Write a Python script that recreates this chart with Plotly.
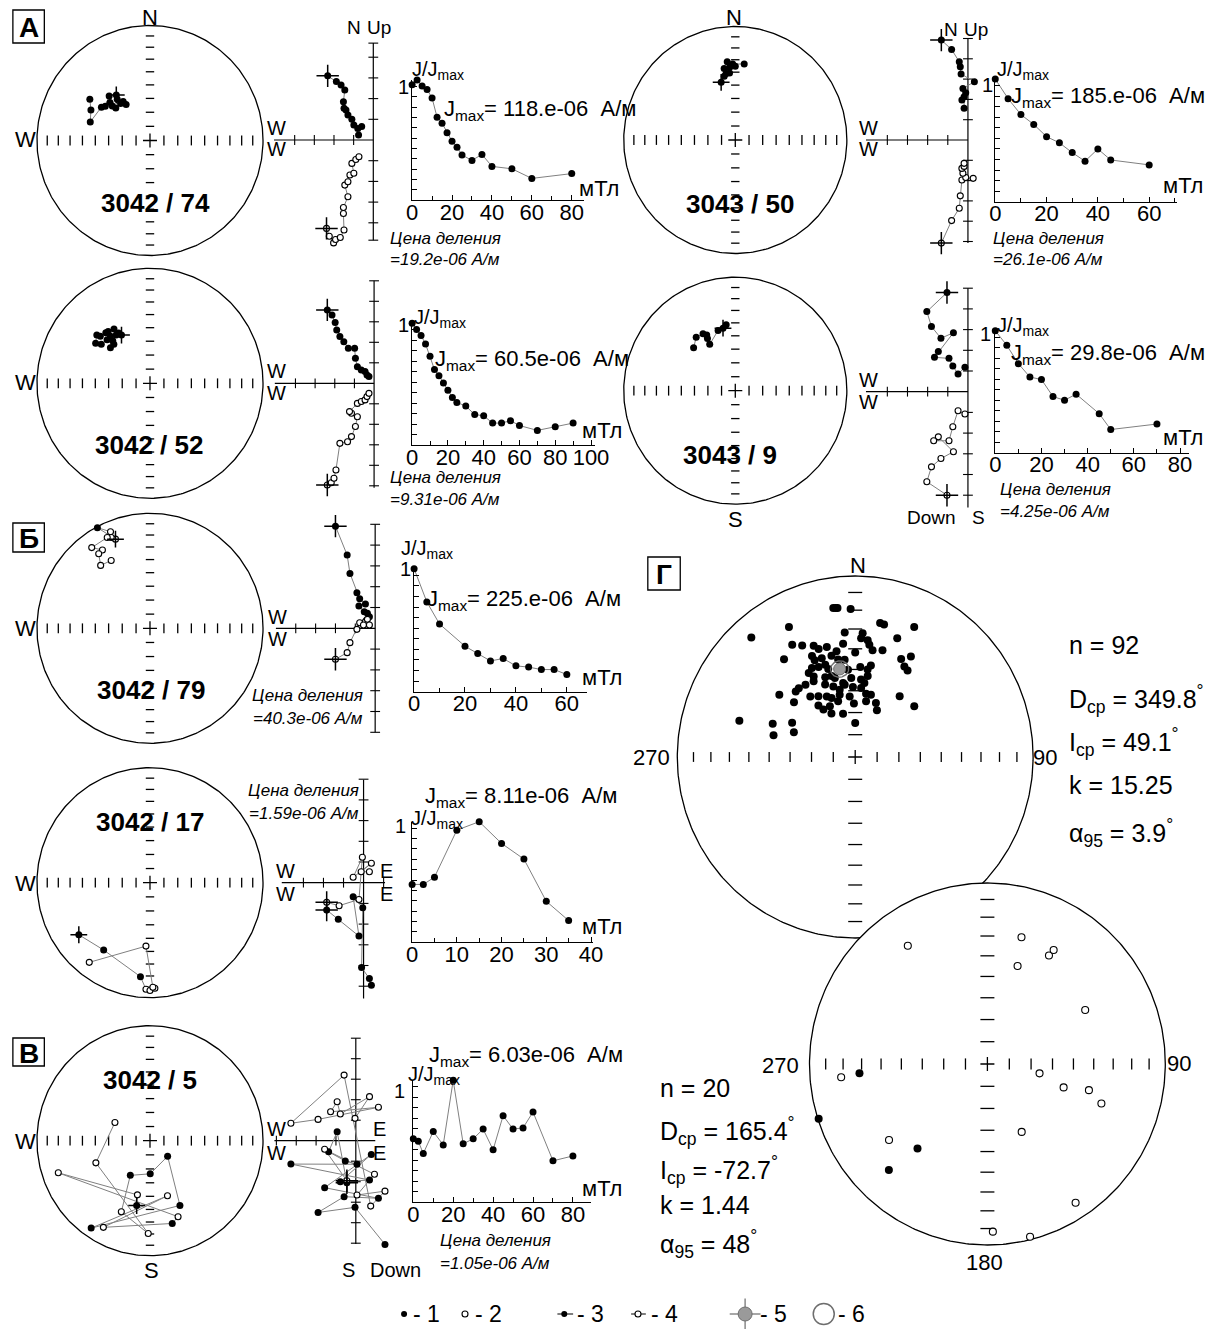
import numpy as np
import plotly.graph_objects as go

W, H = 1226, 1329
FONT = "Liberation Sans, Arial, Helvetica, sans-serif"
LGRAY = "#808080"

# ============================ DATA ============================
# ---- stereonets: declination / inclination (deg), demagnetisation order, first = NRM
st74_dec = [323, 321, 325, 326, 321, 313, 312, 313, 317, 307, 304, 287, 297, 304]
st74_inc = [49, 52, 56, 59, 56, 56, 53, 50, 46, 49, 47, 44, 41, 36]
st52_dec = [329, 327.5, 324.5, 326, 320.6, 319.5, 318.4, 313, 311.8, 306, 308.3, 315, 318.3, 316.7, 311.5]
st52_inc = [49.5, 47, 47.3, 42.5, 41.3, 45.3, 40.8, 39.7, 37, 40.3, 44.3, 45.4, 49, 51.5, 51.4]
st50_dec = [346, 350, 355, 352, 351, 355.5, 0, 354, 358, 6.8]
st50_inc = [46.5, 42.5, 40.5, 40.6, 36.3, 36, 35.3, 31.3, 33.5, 33]
st9_dec = [348.7, 352, 343.8, 330.7, 331.5, 332.4, 330, 323.3, 315.4]
st9_inc = [43.2, 41, 44, 51.3, 46.6, 44, 41.7, 41, 45.8]
st79_dec = [338.5, 332, 337.4, 336.5, 334.4, 323.7, 328.3, 325, 321.4, 329.8]
st79_inc = [-17.8, 1, -10, -15, -13.5, -14, -21, -22, -30.7, -32.3]
st17_dec = [234.3, 215, 185.9, 182.2, 180, 177.3, 178.4, 183.7, 217.8]
st17_inc = [23.5, 29.3, 19, -8, -7, -9, -10, -44, -13.4]
st5_dec = [191.8, 193.3, 251, 159.4, 164.7, 208.7, 162.1, 214.4, 154.8, 131, 179.6, 210, 202.3, 181.1, 248.1, 297]
st5_inc = [41.9, -50, -15.3, -30.1, 26.3, -15.2, -48.3, 8.7, 37.8, 73.2, 66.5, 61.5, -33.6, -20.4, -47.2, -61.5]

# ---- panel G: directions of samples
g1_dec = [352.4, 353.1, 358.2, 332.6, 318.5, 10.7, 12.5, 24.8, 355.1, 3.5,
          2.9, 6.2, 7.3, 19.8, 330.3, 334.2, 339.2, 341, 345.3, 349.8,
          353.8, 0, 9.4, 14.6, 323.5, 336.5, 336.9, 341, 346.6, 349.9,
          25.5, 29.4, 28.9, 31.6, 333.7, 337.5, 341.7, 342.7, 3.3, 9.9,
          332.3, 339.1, 343.5, 357.1, 4.4, 8.9, 325, 320.2, 317.3, 330.8,
          337.1, 342.5, 350.6, 351.6, 358.1, 5, 308.9, 323, 334.5, 337.8,
          345.8, 354.7, 9.9, 14.4, 36.7, 311.3, 324, 325.7, 330.9, 344,
          358.6, 11.2, 21.3, 25.3, 49.8, 287.1, 291.6, 298, 284.6, 291.6,
          0, 345.3, 346.8, 342.7, 328.4, 330.6, 7.2, 355.2, 333.1, 8.2,
          353.7, 351.5]
g1_inc = [18.1, 18.2, 19.3, 20.2, 12.9, 25.6, 26, 22, 31.6, 32,
          34.6, 35.4, 37.5, 30.9, 29.3, 32.1, 34.6, 37, 37.2, 40.4,
          37.1, 41.8, 40, 39, 33.2, 39, 41.5, 41.8, 42, 44.5,
          39.8, 36.4, 42.3, 43.2, 44.3, 45.3, 45.4, 47.8, 48.8, 47.5,
          48.4, 51, 51.4, 54, 54.7, 52.6, 49.7, 49, 49.2, 50.4,
          54.2, 56.4, 55.9, 56.8, 58.2, 58.6, 44.4, 55.5, 59.6, 61.2,
          60.9, 62.5, 60.9, 60.9, 55.6, 52.2, 61.2, 64.1, 67.6, 69.8,
          65.9, 64.3, 63.8, 66.7, 54.2, 32.4, 48.7, 57, 50.8, 59.6,
          74.7, 52.8, 58.7, 63.6, 57.6, 45.8, 56.1, 50, 64.3, 49.6,
          45, 17.9]
g1_n, g1_D, g1_I, g1_k, g1_a95 = 92, 349.8, 49.1, 15.25, 3.9

g2_dec = [325.6, 15.3, 30, 30.6, 17.4, 61.5, 264.9, 265.9, 100, 106.8,
          104.2, 108.8, 252.3, 152.8, 232.8, 220.1, 223.4, 147.1, 178.1, 165.9]
g2_inc = [-21.9, -28.2, -31.4, -27.7, -42.7, -37.5, -18.6, 28.7, -65.7, -53.1,
          -40.8, -32.8, 0.5, -55.3, -31.2, 38.9, 20.5, -9.6, -8.1, -1.8]
g2_n, g2_D, g2_I, g2_k, g2_a95 = 20, 165.4, -72.7, 1.44, 48

# ---- Zijderveld diagrams (scale divisions); h = horizontal proj. (E, N), v = vertical proj. (E, Up)
zj74_hx = [-2.32, -1.88, -1.64, -1.45, -1.52, -1.49, -1.39, -1.29, -1.09, -0.99, -0.79, -0.59, -0.75]
zj74_hy = [3.10, 2.82, 2.66, 2.42, 1.85, 1.53, 1.45, 1.21, 1.00, 0.73, 0.56, 0.65, 0.24]
zj74_vx = [-2.38, -2.24, -2.02, -1.92, -1.68, -1.49, -1.52, -1.52, -1.29, -1.45, -1.29, -1.19, -0.99, -1.09, -0.89, -0.73]
zj74_vy = [-4.27, -4.65, -4.97, -4.81, -4.71, -4.35, -3.55, -3.26, -2.74, -2.18, -2.02, -1.69, -1.61, -1.13, -0.94, -0.81]

zj52_hx = [-2.38, -2.14, -1.98, -1.90, -1.74, -1.54, -1.31, -0.99, -0.95, -0.85, -0.65, -0.46, -0.36, -0.26]
zj52_hy = [3.58, 3.33, 2.96, 2.60, 2.28, 2.03, 1.71, 1.71, 1.22, 0.81, 0.65, 0.57, 0.41, 0.33]
zj52_vx = [-2.38, -2.18, -2.04, -1.94, -1.74, -1.35, -1.15, -0.95, -0.85, -1.15, -1.25, -0.85, -0.65, -0.46, -0.36, -0.26]
zj52_vy = [-4.96, -4.85, -4.63, -4.23, -2.93, -2.85, -2.60, -2.11, -1.63, -1.46, -1.38, -0.98, -0.89, -0.81, -0.65, -0.49]

zj50_hx = [-1.32, -0.81, -0.43, -0.38, -0.34, 0.32, -0.25, -0.11, -0.30, -0.19, -0.19]
zj50_hy = [4.92, 4.46, 3.85, 3.61, 3.25, 2.87, 2.54, 2.33, 1.97, 2.13, 1.56]
zj50_vx = [-1.32, -0.81, -0.43, -0.38, -0.30, 0.26, -0.11, -0.25, -0.30, -0.19, -0.19]
zj50_vy = [-5.08, -3.97, -3.36, -2.75, -1.97, -1.89, -1.85, -1.64, -1.40, -1.30, -1.15]

zj9_hx = [-1.04, -2.04, -1.81, -1.34, -0.72, -1.47, -1.66, -0.94, -0.75, -0.49, -0.15]
zj9_hy = [4.79, 3.87, 3.15, 2.58, 2.85, 1.94, 1.66, 1.61, 1.24, 0.85, 1.18]
zj9_vx = [-1.04, -2.04, -1.81, -1.34, -0.72, -1.47, -1.70, -0.94, -0.75, -0.49, -0.15]
zj9_vy = [-5.00, -4.35, -3.63, -3.23, -2.90, -2.18, -2.37, -2.37, -1.69, -0.92, -1.08]

zj79_hx = [-2.00, -1.41, -1.27, -0.92, -0.78, -0.49, -0.82, -0.55, -0.39, -0.29, -0.43]
zj79_hy = [4.91, 3.52, 2.64, 1.71, 1.42, 1.17, 1.07, 0.80, 0.72, 0.56, 0.40]
zj79_vx = [-2.00, -1.41, -1.27, -0.92, -0.78, -0.49, -0.39, -0.29, -0.59]
zj79_vy = [-1.49, -1.17, -0.69, -0.05, 0.27, 0.32, 0.43, 0.16, 0.16]

zj17_hx = [-1.84, -1.26, -0.23, -0.52, -0.04, -0.10, 0.29, 0.39]
zj17_hy = [-1.32, -1.76, -2.58, -0.68, -1.21, -4.10, -4.63, -4.95]
zj17_vx = [-1.84, -1.22, -0.23, -0.06, -0.52, 0.39, -0.12, 0.29]
zj17_vy = [-0.95, -1.11, -0.81, 1.23, 0.26, 0.94, 0.53, 0.53]

zj5_hx = [-0.45, -0.94, -1.37, -0.53, 0.06, -3.27, 0.69, -0.78, 0.78, -1.57, 1.14, -0.59, -1.90, -0.04, 1.47]
zj5_hy = [-2.05, 0.44, -0.54, -0.99, -1.15, -1.14, -1.92, -2.00, -0.67, -2.29, -2.81, -2.73, -3.50, -3.25, -5.06]
zj5_vx = [-0.45, -1.57, 0.94, 0.06, 1.47, 0.75, -0.59, -3.27, -1.90, 1.14, -1.27, -0.94, -0.78, 0.69, -0.04]
zj5_vy = [-1.95, -0.42, -1.64, -2.65, -2.46, -3.19, 3.20, 0.85, 1.04, 1.63, 1.41, 1.90, 1.30, 2.15, 1.09]

# ---- AF demagnetisation curves: field (mT) / normalised intensity J/Jmax
dm74_f = [0, 2.5, 5, 7.5, 10, 12.5, 15, 17.5, 20, 22.5, 25, 30, 35, 40, 50, 60, 80]
dm74_j = [0.96, 1.0, 0.95, 0.92, 0.85, 0.69, 0.64, 0.56, 0.49, 0.44, 0.375, 0.33, 0.38, 0.28, 0.26, 0.18, 0.22]
dm52_f = [0, 2.5, 5, 7.5, 10, 12.5, 15, 17.5, 20, 22.5, 25, 30, 35, 40, 45, 50, 55, 60, 70, 80, 90]
dm52_j = [1.0, 0.95, 0.90, 0.83, 0.73, 0.62, 0.57, 0.51, 0.45, 0.39, 0.35, 0.32, 0.25, 0.24, 0.18, 0.18, 0.20, 0.16, 0.12, 0.15, 0.18]
dm50_f = [0, 5, 10, 15, 20, 25, 30, 35, 40, 45, 60]
dm50_j = [1.0, 0.84, 0.71, 0.63, 0.53, 0.48, 0.40, 0.33, 0.43, 0.34, 0.30]
dm9_f = [0, 5, 10, 15, 20, 25, 30, 35, 45, 50, 70]
dm9_j = [1.0, 0.88, 0.73, 0.62, 0.60, 0.46, 0.43, 0.48, 0.32, 0.19, 0.235]
dm79_f = [0, 5, 10, 20, 25, 30, 35, 40, 45, 50, 55, 60]
dm79_j = [1.0, 0.73, 0.55, 0.37, 0.31, 0.25, 0.27, 0.21, 0.20, 0.18, 0.18, 0.14]
dm17_f = [0, 2.5, 5, 10, 15, 20, 25, 30, 35]
dm17_j = [0.48, 0.48, 0.54, 0.93, 1.0, 0.82, 0.69, 0.34, 0.18]
dm5_f = [0, 2.5, 5, 10, 15, 20, 25, 30, 35, 40, 45, 50, 55, 60, 70, 80]
dm5_j = [0.52, 0.50, 0.40, 0.58, 0.47, 1.0, 0.48, 0.52, 0.60, 0.43, 0.71, 0.60, 0.61, 0.74, 0.34, 0.38]

# ---- text values
jmax_txt = {"74": "118.e-06", "52": "60.5e-06", "50": "185.e-06", "9": "29.8e-06",
            "79": "225.e-06", "17": "8.11e-06", "5": "6.03e-06"}
div_txt = {"74": "19.2e-06", "52": "9.31e-06", "50": "26.1e-06", "9": "4.25e-06",
           "79": "40.3e-06", "17": "1.59e-06", "5": "1.05e-06"}

assert len(g1_dec) == len(g1_inc) == g1_n and len(g2_dec) == len(g2_inc) == g2_n

# ============================ HELPERS ============================
fig = go.Figure()
axes_layout = {}
shapes = []
annots = []
_n = [0]


def new_axes(ox, oy, sx, sy, xr, yr):
    """ox, oy: page pixel of data origin; sx, sy: pixels per data unit."""
    _n[0] += 1
    k = _n[0]
    s = '' if k == 1 else str(k)
    xd = [(ox + xr[0] * sx) / W, (ox + xr[1] * sx) / W]
    yd = [1 - (oy - yr[0] * sy) / H, 1 - (oy - yr[1] * sy) / H]
    assert 0 <= xd[0] < xd[1] <= 1 and 0 <= yd[0] < yd[1] <= 1, (k, xd, yd)
    axes_layout['xaxis' + s] = dict(domain=xd, range=list(xr), anchor='y' + s, visible=False, fixedrange=True)
    axes_layout['yaxis' + s] = dict(domain=yd, range=list(yr), anchor='x' + s, visible=False, fixedrange=True)
    return 'x' + s, 'y' + s, 'xaxis' + s, 'yaxis' + s


def sc(xa, ya, x, y, **kw):
    fig.add_trace(go.Scatter(x=list(x), y=list(y), xaxis=xa, yaxis=ya, hoverinfo='skip',
                             showlegend=False, cliponaxis=False, **kw))


def txt(x, y, s, size=20, xanchor='center', bold=False, italic=False, color='black'):
    if bold:
        s = '<b>' + s + '</b>'
    if italic:
        s = '<i>' + s + '</i>'
    annots.append(dict(x=x / W, y=1 - y / H, xref='paper', yref='paper', text=s, showarrow=False,
                       xanchor=xanchor, yanchor='middle', borderpad=0,
                       font=dict(family=FONT, size=size, color=color)))


def box(x0, y0, x1, y1, letter):
    shapes.append(dict(type='rect', xref='paper', yref='paper', x0=x0 / W, x1=x1 / W,
                       y0=1 - y1 / H, y1=1 - y0 / H, line=dict(color='black', width=1.3)))
    txt((x0 + x1) / 2, (y0 + y1) / 2 + 1, letter, 28, bold=True)


def ea(dec, inc):
    d = np.radians(np.asarray(dec, float))
    i = np.radians(np.abs(np.asarray(inc, float)))
    r = np.sqrt(2.0) * np.sin((np.pi / 2 - i) / 2)
    return r * np.sin(d), r * np.cos(d)


def small_circle(dec, inc, a):
    D, I, A = np.radians([dec, inc, a])
    t = np.linspace(0, 2 * np.pi, 121)
    m = np.array([np.cos(I) * np.cos(D), np.cos(I) * np.sin(D), np.sin(I)])
    u = np.array([-np.sin(D), np.cos(D), 0.0])
    v = np.cross(m, u)
    p = np.cos(A) * m[:, None] + np.sin(A) * (np.outer(u, np.cos(t)) + np.outer(v, np.sin(t)))
    return ea(np.degrees(np.arctan2(p[1], p[0])), np.degrees(np.arcsin(p[2])))


TICK_INC = np.arange(10, 90, 10)


def stereonet(cx, cy, r, dec, inc, hsize=7, vsize=6, dot=7, nrm=True, path=True, white=False, csize=12):
    xa, ya, _, _ = new_axes(cx, cy, r, r, (-1.13, 1.13), (-1.13, 1.13))
    t = np.linspace(0, 2 * np.pi, 361)
    sc(xa, ya, np.cos(t), np.sin(t), mode='lines', line=dict(color='black', width=1.3),
       fill='toself' if white else 'none', fillcolor='white')
    rr = ea(np.full(len(TICK_INC), 90.0), TICK_INC)[0]
    tp = np.concatenate([-rr, rr])
    sc(xa, ya, tp, 0 * tp, mode='markers',
       marker=dict(symbol='line-ns', size=hsize, line=dict(width=1.3, color='black')))
    sc(xa, ya, 0 * tp, tp, mode='markers',
       marker=dict(symbol='line-ew', size=vsize, line=dict(width=1.3, color='black')))
    sc(xa, ya, [0], [0], mode='markers',
       marker=dict(symbol='cross-thin', size=10, line=dict(width=1.3, color='black')))
    x, y = ea(dec, inc)
    inc = np.asarray(inc, float)
    if path:
        sc(xa, ya, x, y, mode='lines', line=dict(color=LGRAY, width=1))
    dn = inc >= 0
    sc(xa, ya, x[dn], y[dn], mode='markers', marker=dict(size=dot, color='black', line=dict(width=0)))
    sc(xa, ya, x[~dn], y[~dn], mode='markers',
       marker=dict(size=dot - 1, color='white', line=dict(width=1.1, color='black')))
    if nrm:
        sc(xa, ya, x[:1], y[:1], mode='markers',
           marker=dict(symbol='cross-thin', size=csize, line=dict(width=1.5, color='black')))
    return xa, ya


def zijder(ox, oy, sx, sy, hx, hy, vx, vy, xext, yext, xt, yt):
    xa, ya, _, _ = new_axes(ox, oy, sx, sy, (xext[0] - 0.7, xext[1] + 0.7), (yext[0] - 0.7, yext[1] + 0.7))
    sc(xa, ya, xext, [0, 0], mode='lines', line=dict(color='black', width=1.2))
    sc(xa, ya, [0, 0], yext, mode='lines', line=dict(color='black', width=1.2))
    sc(xa, ya, xt, [0] * len(xt), mode='markers',
       marker=dict(symbol='line-ns', size=7, line=dict(width=1.1, color='black')))
    sc(xa, ya, [0] * len(yt), yt, mode='markers',
       marker=dict(symbol='line-ew', size=7, line=dict(width=1.1, color='black')))
    sc(xa, ya, hx, hy, mode='lines', line=dict(color=LGRAY, width=1))
    sc(xa, ya, vx, vy, mode='lines', line=dict(color=LGRAY, width=1))
    sc(xa, ya, hx, hy, mode='markers', marker=dict(size=7, color='black', line=dict(width=0)))
    sc(xa, ya, vx, vy, mode='markers', marker=dict(size=6, color='white', line=dict(width=1.1, color='black')))
    sc(xa, ya, [hx[0], vx[0]], [hy[0], vy[0]], mode='markers',
       marker=dict(symbol='cross-thin', size=16, line=dict(width=1.5, color='black')))


def demag(ox, oy, sx, sy, xmax, f, j, dtick=20, minor=10):
    xa, ya, xn, yn = new_axes(ox, oy, sx, sy, (0, xmax), (0, 1.0))
    axes_layout[xn].update(visible=True, showline=True, linecolor='black', linewidth=1.2,
                           ticks='inside', ticklen=5, tickwidth=1.1, tickcolor='black',
                           tickmode='linear', tick0=0, dtick=dtick, showgrid=False, zeroline=False,
                           ticklabelstandoff=-8,
                           tickfont=dict(family=FONT, size=22, color='black'),
                           minor=dict(ticks='inside', ticklen=4, tickwidth=1, tickcolor='black',
                                      dtick=minor, tick0=0, showgrid=False))
    axes_layout[yn].update(visible=True, showline=True, linecolor='black', linewidth=1.2,
                           ticks='inside', ticklen=5, tickwidth=1.1, tickcolor='black',
                           tickmode='linear', tick0=0, dtick=0.086, showticklabels=False,
                           showgrid=False, zeroline=False)
    sc(xa, ya, f, j, mode='lines+markers', line=dict(color=LGRAY, width=1),
       marker=dict(size=7, color='black', line=dict(width=0)))


def jlabels(jx, jy, one_x, one_y, mx, my, jm, unit_x, unit_y):
    txt(jx, jy, "J/J<sub>max</sub>", 20, 'left')
    txt(one_x, one_y, "1", 20)
    txt(mx, my, "J<sub>max</sub>= " + jm + "&nbsp;&nbsp;А/м", 22, 'left')
    txt(unit_x, unit_y, "мТл", 22, 'left')


def price(x, y1, y2, val, anchor='left'):
    txt(x, y1, "Цена деления", 17, anchor, italic=True)
    txt(x, y2, "=" + val + " А/м", 17, anchor, italic=True)


YT5 = [-5, -4, -3, -2, -1, 1, 2, 3, 4, 5]

# ============================ PANEL A ============================
box(7, 10, 39, 43, "А")
# 3042/74
stereonet(146.5, 140.5, 115, st74_dec, st74_inc)
txt(147, 17, "N", 22); txt(20, 140, "W", 22)
txt(152, 203, "3042 / 74", 26, bold=True)
zijder(373.7, 140, 20.0, 20.7, zj74_hx, zj74_hy, zj74_vx, zj74_vy, (-5.05, 0), (-4.84, 4.68),
       [-4, -3, -2, -1], [-4.84, -4, -3, -2, -1, 1, 2, 3, 4, 4.68])
txt(362, 27, "N", 19, 'right'); txt(366, 27, "Up", 19, 'left')
txt(275, 128, "W", 20); txt(275, 149, "W", 20)
demag(413.2, 200, 2.03, 120, 86, dm74_f, dm74_j)
jlabels(412, 71, 404, 87, 445, 110, jmax_txt["74"], 582, 188)
price(389.5, 238, 260, div_txt["74"])

# 3042/52
stereonet(146.5, 383.3, 115, st52_dec, st52_inc)
txt(20, 383, "W", 22)
txt(145, 445, "3042 / 52", 26, bold=True)
zijder(374.5, 383.3, 20.0, 20.5, zj52_hx, zj52_hy, zj52_vx, zj52_vy, (-5.05, 0), (-5.1, 5.0),
       [-4, -3, -2, -1], YT5)
txt(275, 371, "W", 20); txt(275, 393, "W", 20)
demag(413.2, 445, 1.82, 121.7, 102, dm52_f, dm52_j)
jlabels(414, 318, 404, 325, 435, 360, jmax_txt["52"], 585, 430)
price(389.5, 478, 500, div_txt["52"])

# 3043/50
stereonet(742, 140, 113.5, st50_dec, st50_inc)
txt(741, 17, "N", 22)
txt(746.5, 204, "3043 / 50", 26, bold=True)
zijder(978.7, 140, 20.5, 20.3, zj50_hx, zj50_hy, zj50_vx, zj50_vy, (-5.06, 0), (-5.08, 5.0),
       [-4, -3, -2, -1], YT5)
txt(970, 30, "N", 19, 'right'); txt(973.7, 30, "Up", 19, 'left')
txt(878, 128, "W", 20); txt(878, 149, "W", 20)
demag(1006.5, 201.7, 2.61, 122.7, 71, dm50_f, dm50_j)
jlabels(1007, 71, 999, 85, 1022, 97, jmax_txt["50"], 1176, 185)
price(1002.7, 238, 260, div_txt["50"])

# 3043/9
stereonet(742, 390.7, 113.5, st9_dec, st9_inc)
txt(742, 519, "S", 22)
txt(737, 455, "3043 / 9", 26, bold=True)
zijder(978.7, 391.7, 20.5, 20.7, zj9_hx, zj9_hy, zj9_vx, zj9_vy, (-5.06, 0), (-5.6, 5.0),
       [-4, -3, -2, -1], YT5)
txt(878, 380, "W", 20); txt(878, 402, "W", 20)
txt(968, 517, "Down", 19, 'right'); txt(989, 517, "S", 19)
demag(1006.5, 452.7, 2.35, 122, 84, dm9_f, dm9_j)
jlabels(1007, 326, 997, 334, 1022, 354, jmax_txt["9"], 1176, 437)
price(1010.4, 489, 511, div_txt["9"])

# ============================ PANEL B (Б) ============================
box(7, 523, 39, 552, "Б")
stereonet(146.5, 628.3, 115, st79_dec, st79_inc)
txt(20, 628, "W", 22)
txt(148, 690, "3042 / 79", 26, bold=True)
zijder(375.6, 628.3, 20.2, 20.8, zj79_hx, zj79_hy, zj79_vx, zj79_vy, (-5.0, 0), (-5.0, 5.0),
       [-4, -3, -2, -1], YT5)
txt(276, 617, "W", 20); txt(276, 639, "W", 20)
price(364, 695, 719, div_txt["79"], 'right')
demag(415.2, 691.7, 2.59, 123, 68, dm79_f, dm79_j)
jlabels(401, 549, 406, 569, 427, 600, jmax_txt["79"], 585, 677)

# 3042/17
stereonet(146.5, 882.7, 115, st17_dec, st17_inc)
txt(20, 883, "W", 22)
txt(147, 822, "3042 / 17", 26, bold=True)
price(360, 790, 813, div_txt["17"], 'right')
zijder(363.8, 882.7, 20.4, 20.7, zj17_hx, zj17_hy, zj17_vx, zj17_vy, (-4.08, 1.07), (-5.6, 4.97),
       [-3, -2, -1, 1], YT5)
txt(284, 871, "W", 20); txt(284, 894, "W", 20)
txt(387.5, 871, "E", 20); txt(387.5, 894, "E", 20)
demag(413.2, 942.3, 4.55, 120.6, 40.5, dm17_f, dm17_j, dtick=10, minor=5)
txt(425, 797, "J<sub>max</sub>= " + jmax_txt["17"] + "&nbsp;&nbsp;А/м", 22, 'left')
txt(411, 819, "J/J<sub>max</sub>", 20, 'left')
txt(401, 826, "1", 20)
txt(585, 926, "мТл", 22, 'left')

# ============================ PANEL V (В) ============================
box(7, 1038, 39, 1066, "В")
stereonet(146.5, 1140.7, 115, st5_dec, st5_inc)
txt(20, 1141, "W", 22); txt(148, 1270, "S", 22)
txt(147, 1080, "3042 / 5", 26, bold=True)
zijder(355.9, 1140.7, 20.2, 20.5, zj5_hx, zj5_hy, zj5_vx, zj5_vy, (-4.1, 0.98), (-5.04, 5.0),
       [-4, -3, -2, -1], YT5)
txt(275, 1129, "W", 20); txt(275, 1153, "W", 20)
txt(380.5, 1129, "E", 20); txt(380.5, 1153, "E", 20)
txt(348, 1270, "S", 20); txt(396, 1270, "Down", 20)
demag(414.4, 1202.3, 2.03, 122, 89, dm5_f, dm5_j)
txt(429, 1056, "J<sub>max</sub>= " + jmax_txt["5"] + "&nbsp;&nbsp;А/м", 22, 'left')
txt(408, 1075, "J/J<sub>max</sub>", 20, 'left')
txt(400, 1091, "1", 20)
txt(585, 1188, "мТл", 22, 'left')
price(441, 1240, 1263, div_txt["5"])

# ============================ PANEL G (Г) ============================
box(653, 557, 686, 590, "Г")
xa, ya = stereonet(864, 757, 181, g1_dec, g1_inc, hsize=7, vsize=10, dot=8, nrm=False, path=False)
cx_, cy_ = small_circle(g1_D, g1_I, g1_a95)
mx, my = ea([g1_D], [g1_I])
sc(xa, ya, cx_, cy_, mode='lines', line=dict(color='#6e6e6e', width=1.4))
sc(xa, ya, mx, my, mode='markers', marker=dict(size=12, color='#9a9a9a', line=dict(width=1, color='#6e6e6e')))
txt(867, 565, "N", 22)
txt(657, 758, "270", 22); txt(1057.5, 757, "90", 22)
txt(1080, 645, "n = %d" % g1_n, 25, 'left')
txt(1080, 699, "D<sub>ср</sub> = %.1f<sup>°</sup>" % g1_D, 25, 'left')
txt(1080, 742, "I<sub>ср</sub> = %.1f<sup>°</sup>" % g1_I, 25, 'left')
txt(1080, 785, "k = %.2f" % g1_k, 25, 'left')
txt(1080, 833, "α<sub>95</sub> = %.1f<sup>°</sup>" % g1_a95, 25, 'left')

stereonet(998.5, 1064, 181, g2_dec, g2_inc, hsize=8, vsize=10, dot=8, nrm=False, path=False, white=True)
txt(788, 1065, "270", 22); txt(1193, 1063, "90", 22); txt(996, 1262, "180", 22)
txt(664.5, 1088, "n = %d" % g2_n, 25, 'left')
txt(664.5, 1131, "D<sub>ср</sub> = %.1f<sup>°</sup>" % g2_D, 25, 'left')
txt(664.5, 1170, "I<sub>ср</sub> = %.1f<sup>°</sup>" % g2_I, 25, 'left')
txt(664.5, 1205, "k = %.2f" % g2_k, 25, 'left')
txt(664.5, 1244, "α<sub>95</sub> = %d<sup>°</sup>" % g2_a95, 25, 'left')

# ============================ LEGEND ============================
LY = 1314
la, lb, _, _ = new_axes(0, LY, 1, 1, (380, 900), (-12, 12))
sc(la, lb, [405], [0], mode='markers', marker=dict(size=6, color='black'))
sc(la, lb, [467], [0], mode='markers', marker=dict(size=6, color='white', line=dict(width=1.1, color='black')))
sc(la, lb, [561, 577], [0, 0], mode='lines', line=dict(color='black', width=1.2))
sc(la, lb, [568], [0], mode='markers', marker=dict(size=6, color='black'))
sc(la, lb, [636, 651], [0, 0], mode='lines', line=dict(color='black', width=1.2))
sc(la, lb, [643], [0], mode='markers', marker=dict(size=6, color='white', line=dict(width=1.1, color='black')))
sc(la, lb, [752], [0], mode='markers', marker=dict(symbol='cross-thin', size=22, line=dict(width=1.5, color='#8a8a8a')))
sc(la, lb, [752], [0], mode='markers', marker=dict(size=14, color='#9a9a9a', line=dict(width=1, color='#6e6e6e')))
sc(la, lb, [832], [0], mode='markers', marker=dict(size=21, color='white', line=dict(width=1.5, color='#6e6e6e')))
for xl, s in [(413, "- 1"), (476, "- 2"), (580, "- 3"), (655, "- 4"), (766, "- 5"), (845, "- 6")]:
    txt(xl, LY, s, 23, 'left')

fig.update_layout(width=W, height=H, margin=dict(l=0, r=0, t=0, b=0, pad=0), autosize=False,
                  paper_bgcolor='white', plot_bgcolor='rgba(0,0,0,0)', showlegend=False,
                  shapes=shapes, annotations=annots, font=dict(family=FONT, color='black'),
                  **axes_layout)
fig.write_html("out.html", config={'displayModeBar': False},
               post_script="document.body.style.margin='0';")
